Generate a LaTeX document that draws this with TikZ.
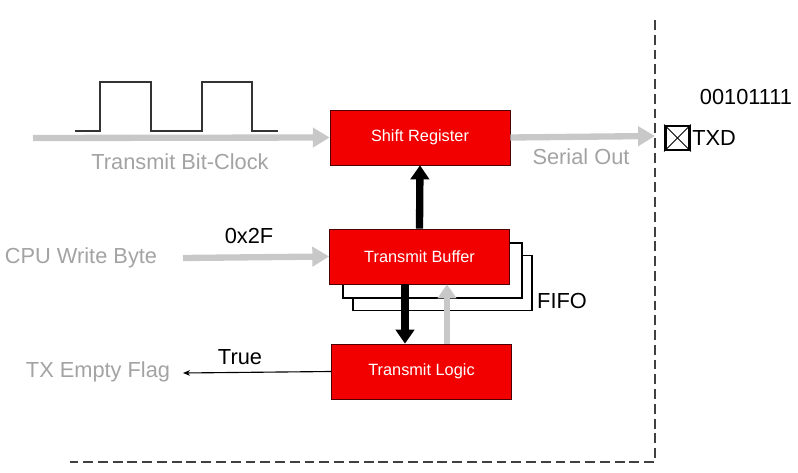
\documentclass[tikz,border=0pt]{standalone}
\usepackage{fontspec}
\setmainfont{Liberation Sans}
\usetikzlibrary{arrows.meta}
\definecolor{regred}{HTML}{F20000}
\definecolor{arrowgray}{HTML}{C8C8C8}
\definecolor{textgray}{HTML}{A3A3A3}
\definecolor{wavegray}{HTML}{333333}
\tikzset{block/.style={draw=black!70!red, fill=regred, text=white, minimum width=4.5cm, minimum height=1.375cm, font=\fontsize{11.6pt}{14pt}\selectfont},
         layer/.style={draw=black, line width=0.9pt, fill=white, minimum width=4.475cm, minimum height=1.375cm},
         sig/.style={font=\fontsize{15.5pt}{18pt}\selectfont, inner sep=0pt},
         graysig/.style={sig, text=textgray},
         grayarrow/.style={draw=arrowgray, line width=4.5pt, -{Triangle[length=12pt,width=13.5pt]}},
         blackarrow/.style={draw=black, line width=5.2pt, -{Triangle[length=10pt,width=13pt]}},
         frame/.style={draw=black!75, line width=1.3pt, dash pattern=on 7pt off 3.5pt},
        }

\begin{document}
\begin{tikzpicture}[x=0.025cm, y=-0.025cm]
        \useasboundingbox (0,0) rectangle (798,473);

        % outline of the chip
        \draw[frame](655,20)--(655,462)--(70,462);

        % registers
        \node[block](sr)at(420,137.5){Shift Register};
        \node[layer](fifob)at(442.5,283){};
        \node[layer](fifoa)at(432.5,270.5){};
        \node[block](buf)at(419.5,256.5){Transmit Buffer};
        \node[block](logic)at(421.5,371.5){Transmit Logic};
        \node[sig](fifo)at(562,301){FIFO};

        % bit clock
        \draw[wavegray, line width=2.1pt](75,131)--(100,131)--(100,82)--(151,82)--(151,131)
             --(202,131)--(202,82)--(252,82)--(252,131)--(278,131);
        \coordinate(clkin)at(33,138);
        \draw[grayarrow](clkin)--(sr.west);
        \node[graysig](clk)at(180,162){Transmit Bit-Clock};

        % serial out
        \coordinate(serout)at(655,136);
        \draw[grayarrow](sr.east)--(serout);
        \node[graysig](so)at(581,157){Serial Out};
        \node[draw, line width=2pt, minimum size=0.6cm, inner sep=0pt](txd)at(677.5,138){};
        \draw[line width=0.7pt](txd.north west)--(txd.south east);
        \draw[line width=0.7pt](txd.south west)--(txd.north east);
        \node[sig, anchor=west](txdl)at(692,138){TXD};
        \node[sig](bits)at(746,97){00101111};

        % cpu write
        \coordinate(cpuin)at(183,258);
        \draw[grayarrow](cpuin)--(buf.west);
        \node[graysig](cpu)at(81,258){CPU Write Byte};
        \node[sig](byte)at(249,236){0x2F};

        % buffer <-> logic
        \draw[blackarrow](buf.north)--(sr.south);
        \draw[blackarrow](405,0 |- buf.south)--(405,0 |- logic.north);
        \draw[grayarrow, line width=4.3pt, -{Triangle[length=10pt,width=13pt]}](447,0 |- logic.north)--(447,0 |- buf.south);

        % empty flag
        \coordinate(flagout)at(183,373);
        \draw[-{Stealth[length=5pt,width=4pt]}, line width=0.8pt](logic.west)--(flagout);
        \node[graysig](flag)at(98,372){TX Empty Flag};
        \node[sig](true)at(240,357){True};
\end{tikzpicture}
\end{document}
